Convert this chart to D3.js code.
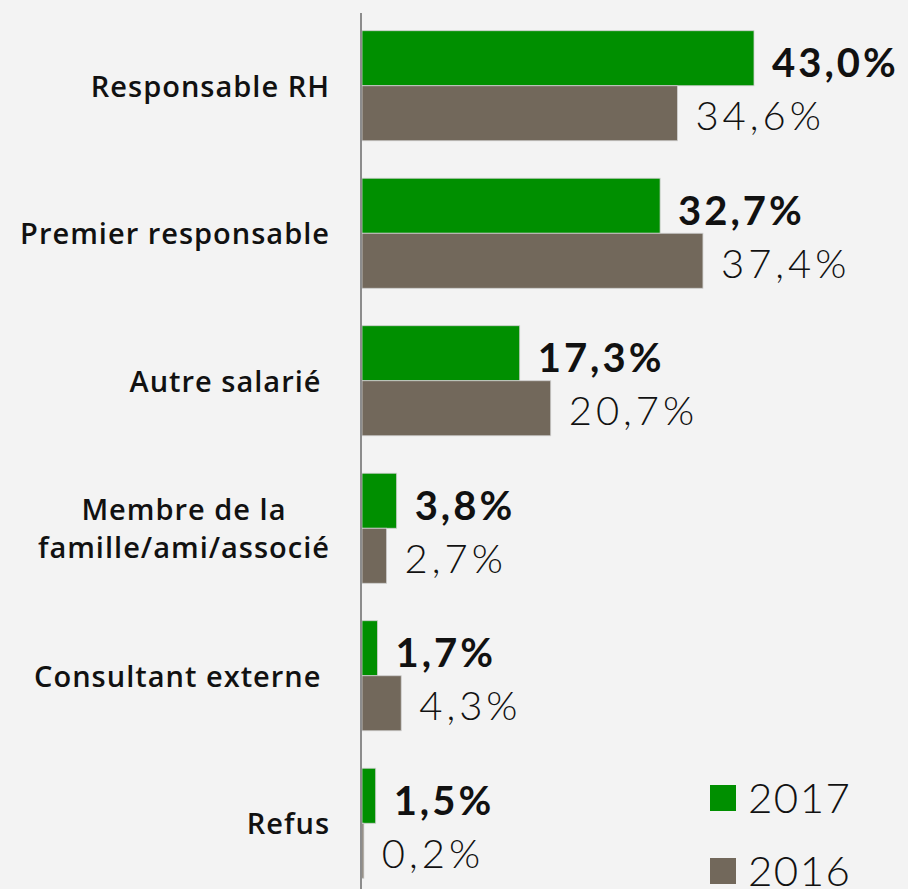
<!DOCTYPE html>
<html>
<head>
<meta charset="utf-8">
<script src="https://cdn.jsdelivr.net/npm/d3@7"></script>
<style>
  html, body { margin: 0; padding: 0; background: #f3f3f3; }
  svg { display: block; }
  .cat { font-family: "Open Sans", Lato, sans-serif; font-weight: 600; font-size: 29px; letter-spacing: 1px; fill: #111; }
  .val { font-family: Lato, "Open Sans", sans-serif; font-size: 40px; fill: #111; }
</style>
</head>
<body>
<svg id="chart"></svg>
<script>
// data
const categories = [
  ["Responsable RH"],
  ["Premier responsable"],
  ["Autre salarié "],
  ["Membre de la", "famille/ami/associé"],
  ["Consultant externe "],
  ["Refus"]
];
const years = ["2017", "2016"];
const values2017 = [43.0, 32.7, 17.3, 3.8, 1.7, 1.5];
const values2016 = [34.6, 37.4, 20.7, 2.7, 4.3, 0.2];

const width = 908;
const height = 889;
const colors = { "2017": "#008f00", "2016": "#72685b" };

const svg = d3.select("#chart").attr("width", width).attr("height", height);

const catKeys = categories.map((c) => c.join(" "));

const y = d3.scaleBand()
  .domain(catKeys)
  .range([12, 897])
  .paddingInner(0.254)
  .paddingOuter(0.127);

const ySub = d3.scaleBand().domain(years).range([0, y.bandwidth()]);

const x = d3.scaleLinear().domain([0, 43]).range([362, 754]);

const fmt = (v) => d3.format(".1f")(v).replace(".", ",") + "%";

const rows = catKeys.map((k, i) => ({
  key: k,
  lines: categories[i],
  vals: [
    { year: "2017", v: values2017[i] },
    { year: "2016", v: values2016[i] }
  ]
}));

// bars
const groups = svg.append("g")
  .selectAll("g")
  .data(rows)
  .join("g")
  .attr("transform", (d) => `translate(0,${y(d.key)})`);

groups.selectAll("rect")
  .data((d) => d.vals)
  .join("rect")
  .attr("x", x(0))
  .attr("y", (d) => ySub(d.year))
  .attr("width", (d) => x(d.v) - x(0))
  .attr("height", ySub.bandwidth())
  .attr("fill", (d) => colors[d.year])
  .attr("stroke", "#cfcfcf")
  .attr("stroke-width", 0.8);

// value labels
groups.selectAll("text.val")
  .data((d) => d.vals)
  .join("text")
  .attr("class", "val")
  .attr("x", (d) => x(d.v) + 18)
  .attr("y", (d) => ySub(d.year) + ySub.bandwidth() / 2 + (d.year === "2017" ? 19 : 17))
  .style("font-weight", (d) => (d.year === "2017" ? 700 : 300))
  .style("letter-spacing", (d) => (d.year === "2017" ? "3px" : "4px"))
  .text((d) => fmt(d.v));

// category labels (multi-line labels centred as a block, block right edge at 330)
const labelRight = 330;
const catLabels = svg.append("g")
  .selectAll("text")
  .data(rows)
  .join("text")
  .attr("class", "cat")
  .attr("xml:space", "preserve")
  .attr("transform", (d) => `translate(0,${y(d.key) + y.bandwidth() / 2})`);

catLabels.selectAll("tspan")
  .data((d) => d.lines.map((l, j) => ({ l, j, n: d.lines.length })))
  .join("tspan")
  .attr("y", (d) => 11 + (d.j - (d.n - 1) / 2) * 38)
  .text((d) => d.l);

catLabels.each(function (d) {
  const spans = d3.select(this).selectAll("tspan");
  if (d.lines.length === 1) {
    spans.attr("x", labelRight).attr("text-anchor", "end");
  } else {
    const maxW = d3.max(spans.nodes(), (n) => n.getComputedTextLength());
    spans.attr("x", labelRight - maxW / 2).attr("text-anchor", "middle");
  }
});

// axis line
svg.append("line")
  .attr("x1", 361).attr("x2", 361)
  .attr("y1", 13).attr("y2", height)
  .attr("stroke", "#8c8c8c")
  .attr("stroke-width", 2);

// legend
const legend = svg.append("g")
  .attr("transform", "translate(710,785)")
  .selectAll("g")
  .data(years)
  .join("g")
  .attr("transform", (d, i) => `translate(0,${i * 73})`);

legend.append("rect")
  .attr("width", 26)
  .attr("height", 26)
  .attr("fill", (d) => colors[d]);

legend.append("text")
  .attr("class", "val")
  .attr("x", 38)
  .attr("y", 28)
  .style("font-size", "42px")
  .style("font-weight", 300)
  .style("letter-spacing", "1.5px")
  .text((d) => d);
</script>
</body>
</html>
